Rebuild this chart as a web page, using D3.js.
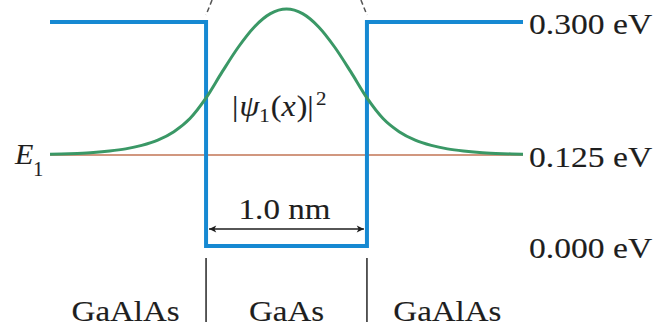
<!DOCTYPE html>
<html>
<head>
<meta charset="utf-8">
<script src="https://cdn.jsdelivr.net/npm/d3@7"></script>
<style>
  html, body { margin: 0; padding: 0; background: #fff; }
  svg { display: block; }
  text { font-family: "Liberation Serif", "Times New Roman", serif; fill: #1e1e1e;
         stroke: #1e1e1e; stroke-width: 0.12px; }
</style>
</head>
<body>
<svg id="chart" width="653" height="328"></svg>
<script>
// Finite square well: GaAs between GaAlAs barriers
const potentialX = [-1.47, -0.5, -0.5, 0.5, 0.5, 1.47];   // nm
const potentialU = [0.300, 0.300, 0.000, 0.000, 0.300, 0.300]; // eV
const groundEnergy = 0.125;                                 // eV
const energyTicks = [0.300, 0.125, 0.000];
const energyLabels = ["0.300 eV", "0.125 eV", "0.000 eV"];
const materials = ["GaAlAs", "GaAs", "GaAlAs"];
const materialCenters = [-1.0, 0.0, 1.0];                    // nm
const interfaces = [-0.5, 0.5];                              // nm

// Probability density |psi_1(x)|^2 (relative to its peak)
const psiX = [-1.47, -1.4, -1.3, -1.2, -1.1, -1.0, -0.9, -0.8, -0.7, -0.6, -0.5,
              -0.4, -0.3, -0.2, -0.1, 0.0, 0.1, 0.2, 0.3, 0.4,
              0.5, 0.6, 0.7, 0.8, 0.9, 1.0, 1.1, 1.2, 1.3, 1.4, 1.47];
const psiSq = [0.005, 0.007, 0.011, 0.017, 0.027, 0.042, 0.066, 0.102, 0.160, 0.250, 0.391,
               0.569, 0.738, 0.877, 0.968, 1.000, 0.968, 0.877, 0.738, 0.569,
               0.391, 0.250, 0.160, 0.102, 0.066, 0.042, 0.027, 0.017, 0.011, 0.007, 0.005];

const svg = d3.select("#chart");

const x = d3.scaleLinear().domain([-1.47, 1.47]).range([50, 523]);
const yE = d3.scaleLinear().domain([0, 0.125, 0.3]).range([246, 155, 22]);
const yPsi = d3.scaleLinear().domain([0, 1]).range([yE(groundEnergy), 9]);

const blue = "#1689d2", green = "#3a9866", brown = "#c27455", ink = "#1e1e1e";
const stretch = 1.1; // typeface is set slightly wide

// places a text at (tx, ty) with a horizontal stretch
function placed(sel, tx, ty, s = stretch) {
  return sel.attr("transform", `translate(${tx},${ty}) scale(${s},1)`);
}

// dashed leaders at the top (continuing off the figure)
svg.append("line").attr("x1", x(-0.5) + 6).attr("y1", 0).attr("x2", x(-0.5)).attr("y2", 15)
  .attr("stroke", "#555").attr("stroke-width", 1.5).attr("stroke-dasharray", "5,3");
svg.append("line").attr("x1", x(0.5) - 6).attr("y1", 0).attr("x2", x(0.5)).attr("y2", 15)
  .attr("stroke", "#555").attr("stroke-width", 1.5).attr("stroke-dasharray", "5,3");

// E1 level
svg.append("line")
  .attr("x1", x(-1.47)).attr("x2", x(1.47))
  .attr("y1", yE(groundEnergy)).attr("y2", yE(groundEnergy))
  .attr("stroke", brown).attr("stroke-width", 1.6);

// potential profile
const potLine = d3.line().x((d, i) => x(potentialX[i])).y(d => yE(d));
svg.append("path")
  .attr("d", potLine(potentialU))
  .attr("fill", "none").attr("stroke", blue).attr("stroke-width", 4)
  .attr("stroke-linejoin", "miter");

// probability density
const psiLine = d3.line().x((d, i) => x(psiX[i])).y(d => yPsi(d)).curve(d3.curveMonotoneX);
svg.append("path")
  .attr("d", psiLine(psiSq))
  .attr("fill", "none").attr("stroke", green).attr("stroke-width", 3);

// width arrow
const defs = svg.append("defs");
defs.append("marker").attr("id", "arr").attr("viewBox", "0 0 10 10")
  .attr("refX", 9).attr("refY", 5).attr("markerWidth", 9).attr("markerHeight", 9)
  .attr("markerUnits", "userSpaceOnUse").attr("orient", "auto-start-reverse")
  .append("path").attr("d", "M1,1 L9,5 L1,9 L3,5 Z").attr("fill", ink);
svg.append("line")
  .attr("x1", x(-0.5) + 3).attr("x2", x(0.5) - 3).attr("y1", 229).attr("y2", 229)
  .attr("stroke", ink).attr("stroke-width", 1.6)
  .attr("marker-start", "url(#arr)").attr("marker-end", "url(#arr)");
placed(svg.append("text"), x(0) - 2, 219, 1.14).attr("text-anchor", "middle")
  .attr("font-size", 29).text("1.0 nm");

// |psi_1(x)|^2 label
const lab = placed(svg.append("text"), 232, 116).attr("font-size", 29);
lab.append("tspan").text("|");
lab.append("tspan").attr("font-style", "italic").attr("dx", 1).text("ψ");
lab.append("tspan").attr("font-size", 19).attr("dy", 6).text("1");
lab.append("tspan").attr("dy", -6).attr("dx", 1).text("(");
lab.append("tspan").attr("font-style", "italic").text("x");
lab.append("tspan").attr("dx", 1).text(")|");
lab.append("tspan").attr("font-size", 19).attr("dy", -11).attr("dx", 2).text("2");

// E1 label
const e1 = svg.append("text").attr("x", 15).attr("y", 164).attr("font-size", 30);
e1.append("tspan").attr("font-style", "italic").text("E");
e1.append("tspan").attr("font-size", 20).attr("dy", 12).text("1");

// energy labels on the right
svg.selectAll("text.energy").data(energyTicks).join("text")
  .attr("class", "energy")
  .attr("transform", d => `translate(529,${yE(d) + 12}) scale(1.12,1)`)
  .attr("font-size", 30)
  .text((d, i) => energyLabels[i]);

// interface ticks and material names
svg.selectAll("line.iface").data(interfaces).join("line")
  .attr("class", "iface")
  .attr("x1", d => x(d)).attr("x2", d => x(d)).attr("y1", 258).attr("y2", 322)
  .attr("stroke", "#333").attr("stroke-width", 1.6);
svg.selectAll("text.mat").data(materials).join("text")
  .attr("class", "mat")
  .attr("transform", (d, i) => `translate(${x(materialCenters[i])},321) scale(${stretch},1)`)
  .attr("text-anchor", "middle").attr("font-size", 30)
  .text(d => d);
</script>
</body>
</html>
